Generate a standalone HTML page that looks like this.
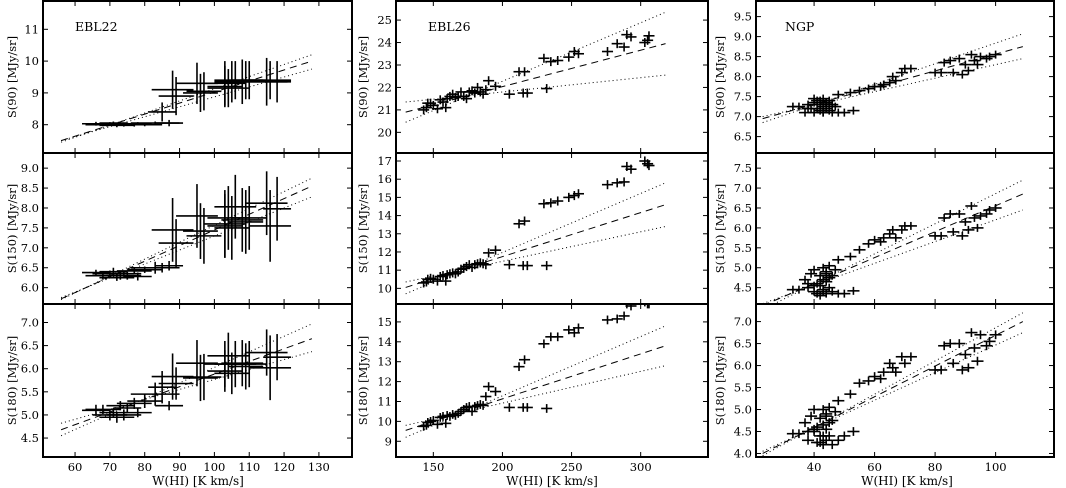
<!DOCTYPE html>
<html><head><meta charset="utf-8">
<style>
html,body{margin:0;padding:0;background:#fff;}
svg{display:block;font-family:"DejaVu Serif","Liberation Serif",serif;}
</style></head>
<body>
<svg id="fig" width="1066" height="488" viewBox="0 0 1066 488" xmlns="http://www.w3.org/2000/svg"></svg>
<script>
// ---------- DATA ----------
const ebl22X = [66,68,70,71,72,73,74,75,77,78,80,83,85,87,88,89,95,96,97,103,103,104,105,106,108,109,110,115,116,118];
const ebl22XErr = [4,5,5,4,5,4,5,4,5,4,5,7,4,4,6,5,6,5,5,5,6,6,5,6,6,5,5,6,6,4];
const ebl22S90 = [8.03,8.0,8.02,8.05,7.98,8.03,8.0,8.02,8.0,8.03,8.0,8.05,8.4,8.05,9.1,8.9,9.3,9.0,9.05,9.2,9.3,9.15,9.35,9.4,9.35,9.4,9.4,9.35,9.4,9.35];
const ebl22S90Err = [0.06,0.05,0.06,0.05,0.06,0.05,0.06,0.05,0.06,0.05,0.05,0.05,0.3,0.1,0.6,0.6,0.65,0.6,0.6,0.65,0.7,0.6,0.65,0.6,0.7,0.6,0.6,0.75,0.6,0.65];
const ebl22S150 = [6.38,6.3,6.35,6.4,6.25,6.3,6.35,6.3,6.42,6.28,6.45,6.5,6.5,6.55,7.45,7.12,7.8,7.42,7.3,7.55,7.6,7.75,7.5,8.03,7.7,7.65,7.75,8.12,7.55,7.98];
const ebl22S150Err = [0.07,0.1,0.08,0.1,0.08,0.1,0.08,0.1,0.08,0.1,0.08,0.15,0.12,0.12,0.8,0.6,0.8,0.7,0.7,0.8,0.85,0.8,0.8,0.8,0.8,0.8,0.8,0.8,0.9,0.8];
const ebl22S180 = [5.1,5.12,5.0,5.05,4.95,5.2,5.0,5.15,5.25,5.05,5.3,5.45,5.6,5.2,5.83,5.68,6.12,5.8,5.82,5.95,6.1,6.28,5.9,6.1,6.12,6.05,6.1,6.35,6.02,6.25];
const ebl22S180Err = [0.12,0.1,0.12,0.1,0.12,0.1,0.12,0.1,0.12,0.1,0.15,0.25,0.35,0.1,0.5,0.35,0.5,0.5,0.5,0.45,0.5,0.5,0.45,0.5,0.5,0.5,0.5,0.5,0.7,0.5];

const ebl26X = [143,145,146,148,150,153,155,157,159,160,162,164,166,168,170,172,174,176,178,180,182,184,186,188,190,195,205,212,215,216,218,232,230,235,240,248,252,255,276,283,288,290,293,303,305,306];
const ebl26S90 = [21.0,21.1,21.3,21.3,21.2,21.05,21.45,21.35,21.1,21.5,21.6,21.7,21.55,21.6,21.8,21.6,21.5,21.8,21.85,21.75,22.0,21.8,21.7,21.9,22.3,22.05,21.7,22.7,21.75,22.7,21.75,21.95,23.3,23.15,23.2,23.35,23.6,23.5,23.6,23.95,23.8,24.35,24.25,24.0,24.1,24.3];
const ebl26S150 = [10.3,10.35,10.5,10.55,10.5,10.4,10.65,10.7,10.4,10.75,10.8,10.85,10.8,10.9,11.05,11.1,11.2,11.3,11.15,11.3,11.35,11.4,11.35,11.3,11.95,12.1,11.3,13.55,11.25,13.7,11.25,11.25,14.65,14.7,14.8,15.0,15.1,15.2,15.7,15.8,15.85,16.7,16.55,17.0,16.85,16.75];
const ebl26S180 = [9.75,9.8,9.95,10.0,10.05,9.85,10.2,10.25,9.9,10.3,10.25,10.35,10.3,10.4,10.5,10.6,10.7,10.75,10.5,10.75,10.8,10.85,10.8,11.25,11.75,11.5,10.7,12.75,10.7,13.1,10.7,10.65,13.9,14.25,14.25,14.6,14.45,14.7,15.1,15.15,15.3,15.9,15.8,16.0,15.9,15.9];

const ngpX = [35,37,38,39,40,40,41,41,42,42,43,43,43,44,44,44,45,45,46,46,47,38,42,45,48,40,44,43,
  33,50,53,48,52,55,58,60,62,63,65,66,67,69,70,72,80,82,83,85,86,88,89,90,91,92,93,94,95,97,98,100];
const ngpS90 = [7.25,7.1,7.3,7.2,7.35,7.1,7.4,7.2,7.3,7.15,7.45,7.25,7.1,7.35,7.2,7.3,7.4,7.15,7.3,7.1,7.25,7.2,7.4,7.3,7.1,7.45,7.35,7.1,
  7.25,7.1,7.15,7.55,7.6,7.65,7.7,7.75,7.75,7.8,7.85,8.0,7.9,8.1,8.2,8.2,8.1,8.1,8.35,8.4,8.1,8.45,8.05,8.3,8.15,8.55,8.4,8.3,8.5,8.45,8.5,8.55];
const ngpS150 = [4.45,4.7,4.5,4.85,4.4,4.95,4.6,4.35,4.8,4.55,5.0,4.7,4.4,4.9,4.35,4.65,5.05,4.5,4.8,4.4,4.95,4.6,4.3,4.75,4.35,4.55,4.85,4.45,
  4.45,4.35,4.42,5.2,5.28,5.45,5.6,5.7,5.65,5.75,5.85,5.95,5.75,5.95,6.05,6.05,5.8,5.8,6.25,6.35,5.9,6.35,5.8,6.15,5.95,6.55,6.25,6.0,6.3,6.35,6.45,6.5];
const ngpS180 = [4.45,4.7,4.3,4.85,4.5,5.0,4.6,4.25,4.8,4.4,5.0,4.65,4.2,4.9,4.3,4.55,5.05,4.4,4.75,4.2,4.95,4.5,4.25,4.7,4.3,4.55,4.85,4.4,
  4.45,4.4,4.5,5.2,5.35,5.6,5.65,5.75,5.7,5.85,6.05,5.95,5.85,6.2,6.05,6.2,5.9,5.9,6.45,6.5,6.05,6.5,5.9,6.25,5.95,6.75,6.4,6.1,6.7,6.45,6.55,6.7];

// fit lines: [xStart, xEnd, yStart, yEnd]
const fitEbl22S90 = {best:[56,128,7.5,10.0], hi:[56,128,7.45,10.2], lo:[56,128,7.5,9.75]};
const fitEbl22S150 = {best:[56,128,5.72,8.55], hi:[56,128,5.7,8.75], lo:[56,128,5.75,8.28]};
const fitEbl22S180 = {best:[56,128,4.68,6.65], hi:[56,128,4.55,6.97], lo:[56,128,4.82,6.37]};
const fitEbl26S90 = {best:[130,318,20.9,23.95], hi:[130,318,20.45,25.35], lo:[130,318,21.35,22.55]};
const fitEbl26S150 = {best:[130,318,10.05,14.6], hi:[130,318,9.7,15.8], lo:[130,318,10.35,13.4]};
const fitEbl26S180 = {best:[130,318,9.55,13.8], hi:[130,318,9.2,14.8], lo:[130,318,9.8,12.8]};
const fitNgpS90 = {best:[23,109,6.95,8.75], hi:[23,109,6.85,9.07], lo:[23,109,7.0,8.45]};
const fitNgpS150 = {best:[23,109,4.05,6.85], hi:[23,109,3.95,7.2], lo:[23,109,4.1,6.45]};
const fitNgpS180 = {best:[23,109,4.0,7.0], hi:[23,109,3.95,7.2], lo:[23,109,4.05,6.75]};

const xTicks1 = [60,70,80,90,100,110,120,130];
const xTicks2 = [150,200,250,300];
const xTicks3 = [40,60,80,100,120];

// ---------- DRAW ----------
const NS = "http://www.w3.org/2000/svg";
const svg = document.getElementById('fig');
function mk(tag, attrs, parent){
  const e = document.createElementNS(NS, tag);
  for (const k in attrs) e.setAttribute(k, attrs[k]);
  (parent||svg).appendChild(e);
  return e;
}
const cols = [{l:43,r:352,xd:[50.8,139.5],ticks:xTicks1,lab:'EBL22',labx:75,ylx:13,xlx:198},
              {l:396,r:708,xd:[123,348.7],ticks:xTicks2,lab:'EBL26',labx:428,ylx:364,xlx:552},
              {l:756,r:1054,xd:[20.8,119.3],ticks:xTicks3,lab:'NGP',labx:785,ylx:721,xlx:907}];
const rows = [{t:1,b:153,name:'S(90)'},{t:153,b:304,name:'S(150)'},{t:304,b:457,name:'S(180)'}];
const panels = [
 {c:0,r:0,yd:[7.11,11.89],yt:[8,9,10,11],dec:0,x:ebl22X,y:ebl22S90,xe:ebl22XErr,ye:ebl22S90Err,fit:fitEbl22S90},
 {c:0,r:1,yd:[5.59,9.38],yt:[6,6.5,7,7.5,8,8.5,9],dec:1,x:ebl22X,y:ebl22S150,xe:ebl22XErr,ye:ebl22S150Err,fit:fitEbl22S150},
 {c:0,r:2,yd:[4.09,7.40],yt:[4.5,5,5.5,6,6.5,7],dec:1,x:ebl22X,y:ebl22S180,xe:ebl22XErr,ye:ebl22S180Err,fit:fitEbl22S180},
 {c:1,r:0,yd:[19.08,25.85],yt:[20,21,22,23,24,25],dec:0,x:ebl26X,y:ebl26S90,xe:4,ye:0.2,fit:fitEbl26S90},
 {c:1,r:1,yd:[9.14,17.44],yt:[10,11,12,13,14,15,16,17],dec:0,x:ebl26X,y:ebl26S150,xe:4,ye:0.25,fit:fitEbl26S150},
 {c:1,r:2,yd:[8.21,15.9],yt:[9,10,11,12,13,14,15],dec:0,x:ebl26X,y:ebl26S180,xe:4,ye:0.22,fit:fitEbl26S180},
 {c:2,r:0,yd:[6.09,9.89],yt:[6.5,7,7.5,8,8.5,9,9.5],dec:1,x:ngpX,y:ngpS90,xe:2,ye:0.1,fit:fitNgpS90},
 {c:2,r:1,yd:[4.09,7.88],yt:[4.5,5,5.5,6,6.5,7,7.5],dec:1,x:ngpX,y:ngpS150,xe:2,ye:0.1,fit:fitNgpS150},
 {c:2,r:2,yd:[3.92,7.40],yt:[4,4.5,5,5.5,6,6.5,7],dec:1,x:ngpX,y:ngpS180,xe:2,ye:0.1,fit:fitNgpS180}
];
panels.forEach((p,i)=>{
  const C = cols[p.c], R = rows[p.r];
  const sx = v => C.l + (v - C.xd[0])/(C.xd[1]-C.xd[0])*(C.r-C.l);
  const sy = v => R.b - (v - p.yd[0])/(p.yd[1]-p.yd[0])*(R.b-R.t);
  const g = mk('g',{});
  
  
  const cid = 'clip'+i;
  const cp = mk('clipPath',{id:cid},g);
  mk('rect',{x:C.l,y:R.t,width:C.r-C.l,height:R.b-R.t},cp);
  const data = mk('g',{'clip-path':'url(#'+cid+')'},g);
  [['best','7,5'],['hi','1,3'],['lo','1,3']].forEach(([k,dash])=>{
    const f = p.fit[k];
    const ln = mk('line',{x1:sx(f[0]),x2:sx(f[1]),y1:sy(f[2]),y2:sy(f[3]),stroke:'#000','stroke-width':1,'stroke-dasharray':dash},data);
    
    
  });
  p.x.forEach((xv,j)=>{
    const yv = p.y[j];
    const xe = Array.isArray(p.xe)?p.xe[j]:p.xe;
    const ye = Array.isArray(p.ye)?p.ye[j]:p.ye;
    const pt = mk('g',{stroke:'#000','stroke-width':1.6},data);
    
    
    mk('line',{x1:sx(xv-xe),x2:sx(xv+xe),y1:sy(yv),y2:sy(yv)},pt);
    mk('line',{x1:sx(xv),x2:sx(xv),y1:sy(yv-ye),y2:sy(yv+ye)},pt);
  });
  p.yt.forEach(t=>{
    const y = sy(t);
    mk('line',{x1:C.l,x2:C.l+5,y1:y,y2:y,stroke:'#000','stroke-width':1},g);
    mk('line',{x1:C.r-5,x2:C.r,y1:y,y2:y,stroke:'#000','stroke-width':1},g);
    const tx = mk('text',{x:C.l-4,y:y+4,'text-anchor':'end','font-size':11.5,fill:'#000'},g);
    tx.textContent = t.toFixed(p.dec);
    
    
  });
  C.ticks.forEach(t=>{
    const x = sx(t);
    if (x < C.l || x > C.r+2) return;
    mk('line',{x1:x,x2:x,y1:R.b,y2:R.b-5,stroke:'#000','stroke-width':1},g);
    mk('line',{x1:x,x2:x,y1:R.t,y2:R.t+5,stroke:'#000','stroke-width':1},g);
    if (p.r===2){
      const tx = mk('text',{x:x,y:R.b+14,'text-anchor':'middle','font-size':11.5,fill:'#000'},g);
      tx.textContent = t;
      
      
    }
  });
  const fr = mk('rect',{x:C.l,y:R.t,width:C.r-C.l,height:R.b-R.t,fill:'none',stroke:'#000','stroke-width':2},g);
  
  
  const cy = (R.t+R.b)/2;
  const yl = mk('text',{x:C.ylx,y:cy,'text-anchor':'middle','font-size':11.5,fill:'#000',transform:'rotate(-90 '+C.ylx+' '+cy+')','dominant-baseline':'middle'},g);
  yl.textContent = R.name+'  [MJy/sr]';
  
  
  if (p.r===0){
    const lt = mk('text',{x:C.labx,y:31,'font-size':12.5,fill:'#000'},g);
    lt.textContent = C.lab;
    
    
  }
  if (p.r===2){
    const xl = mk('text',{x:C.xlx,y:485,'text-anchor':'middle','font-size':12,fill:'#000'},g);
    xl.textContent = 'W(HI)  [K km/s]';
    
    
  }
});
</script>
</body></html>
